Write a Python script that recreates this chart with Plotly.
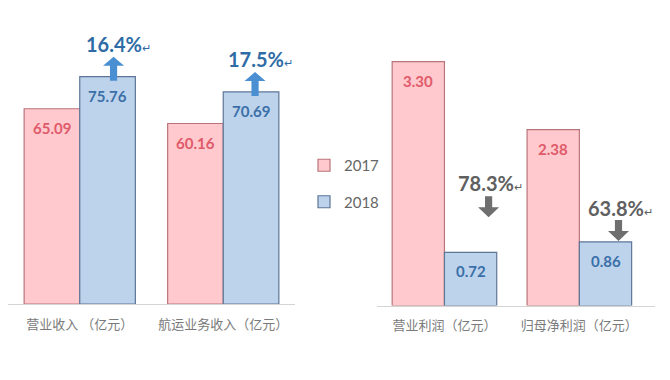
import plotly.graph_objects as go

# ---- data ----
rev_cats = ["营业收入 （亿元）", "航运业务收入（亿元）"]
rev_2017 = [65.09, 60.16]
rev_2018 = [75.76, 70.69]
rev_change = ["16.4%", "17.5%"]

prof_cats = ["营业利润（亿元）", "归母净利润（亿元）"]
prof_2017 = [3.30, 2.38]
prof_2018 = [0.72, 0.86]
prof_change = ["78.3%", "63.8%"]

years = ["2017", "2018"]

# ---- styles ----
PINK_FILL, PINK_LINE, PINK_TXT = "#ffc9cd", "#b9747b", "#e05a6a"
BLUE_FILL, BLUE_LINE, BLUE_TXT = "#bdd3ec", "#5d7696", "#3a6fa8"
CJK = "Noto Sans CJK SC"
NUM = "Lato"

# page body has an 8px margin; lay out in page pixels and convert
OFF = 8
W, H = 670 - OFF, 380 - OFF
def fx(px):
    return (px - OFF) / W
def fy(py):
    return 1 - (py - OFF) / H

fig = go.Figure()

def add_bars(cats, v17, v18, xa, ya, show):
    fig.add_trace(go.Bar(x=cats, y=v17, name=years[0], xaxis=xa, yaxis=ya,
                         marker=dict(color=PINK_FILL, line=dict(color=PINK_LINE, width=1.2)),
                         legendgroup="a", showlegend=show, hoverinfo="skip"))
    fig.add_trace(go.Bar(x=cats, y=v18, name=years[1], xaxis=xa, yaxis=ya,
                         marker=dict(color=BLUE_FILL, line=dict(color=BLUE_LINE, width=1.2)),
                         legendgroup="b", showlegend=show, hoverinfo="skip"))

add_bars(rev_cats, rev_2017, rev_2018, "x", "y", True)
add_bars(prof_cats, prof_2017, prof_2018, "x2", "y2", False)

BAR_OFF = 0.19375  # half of a bar width within group (bargap 0.225)

ann = []
shapes = []
def value_labels(v17, v18, xr, yr, fmt):
    for i, (a, b) in enumerate(zip(v17, v18)):
        ann.append(dict(x=i - BAR_OFF, y=a, xref=xr, yref=yr, text=fmt.format(a),
                        showarrow=False, yanchor="middle", yshift=-19,
                        font=dict(family=NUM, size=15, color=PINK_TXT, weight="bold")))
        ann.append(dict(x=i + BAR_OFF, y=b, xref=xr, yref=yr, text=fmt.format(b),
                        showarrow=False, yanchor="middle", yshift=-19,
                        font=dict(family=NUM, size=15, color=BLUE_TXT, weight="bold")))

value_labels(rev_2017, rev_2018, "x", "y", "{:.2f}")
value_labels(prof_2017, prof_2018, "x2", "y2", "{:.2f}")

RET = "<span style='font-size:11px;font-weight:normal'>↵</span>"

def block_arrow(x, y, xr, yr, tip, tail, color, dx):
    """Block arrow anchored at a bar top; geometry in pixels (y up)."""
    up = tip > tail
    hb = tip - 9 if up else tip + 10          # head base
    sw, hw = 3.6, 10.5                          # half widths
    p = (f"M{dx-sw},{tail} L{dx+sw},{tail} L{dx+sw},{hb} L{dx+hw},{hb} "
         f"L{dx},{tip} L{dx-hw},{hb} L{dx-sw},{hb} Z")
    shapes.append(dict(type="path", xref=xr, yref=yr, xsizemode="pixel", ysizemode="pixel",
                       xanchor=x, yanchor=y, path=p, fillcolor=color,
                       line=dict(width=0), layer="above"))

# revenue growth: blue up arrows
rev_xs = [6, 4]
for i, (v, pct) in enumerate(zip(rev_2018, rev_change)):
    block_arrow(i + BAR_OFF, v, "x", "y", 20, -4, "#4a8fd2", rev_xs[i])
    ann.append(dict(x=i + BAR_OFF, y=v, xref="x", yref="y", text=pct + RET, showarrow=False,
                    yanchor="middle", yshift=33, xshift=rev_xs[i] + 5,
                    font=dict(family=NUM, size=20, color="#2f6ca6", weight="bold")))

# profit decline: grey down arrows
prof_arrow_tip = [35, 1]
prof_text = [69, 34]
prof_xs = [18, 13]
for i, (v, pct) in enumerate(zip(prof_2018, prof_change)):
    t = prof_arrow_tip[i]
    block_arrow(i + BAR_OFF, v, "x2", "y2", t, t + 21, "#6f6f6f", prof_xs[i])
    ann.append(dict(x=i + BAR_OFF, y=v, xref="x2", yref="y2", text=pct + RET, showarrow=False,
                    yanchor="middle", yshift=prof_text[i], xshift=prof_xs[i] + 2,
                    font=dict(family=NUM, size=20, color="#606060", weight="bold")))

axis_common = dict(showline=True, linecolor="#d4d4d4", linewidth=1, ticks="",
                   showgrid=False, zeroline=False, ticklabelstandoff=8,
                   tickfont=dict(family=CJK, size=13, color="#7a7a7a"), fixedrange=True)
yaxis_common = dict(visible=False, showgrid=False, zeroline=False, fixedrange=True)

fig.update_layout(
    width=W, height=H,
    margin=dict(l=0, r=0, t=0, b=0),
    paper_bgcolor="white", plot_bgcolor="white",
    barmode="group", bargap=0.225, bargroupgap=0,
    xaxis=dict(domain=[fx(8), fx(295)], anchor="y", **axis_common),
    yaxis=dict(domain=[fy(304), 1], range=[0, (304 - OFF) / 3.0], anchor="x", **yaxis_common),
    xaxis2=dict(domain=[fx(377), fx(655)], anchor="y2", **axis_common),
    yaxis2=dict(domain=[fy(305.5), 1], range=[0, (305.5 - OFF) / 73.9], anchor="x2", **yaxis_common),
    legend=dict(x=fx(304), y=fy(149), xanchor="left", yanchor="top",
                traceorder="grouped", tracegroupgap=14,
                font=dict(family=NUM, size=15, color="#666666"),
                bgcolor="rgba(0,0,0,0)", itemwidth=30),
    annotations=ann,
    shapes=shapes,
    showlegend=True,
)

fig.write_html("out.html")
